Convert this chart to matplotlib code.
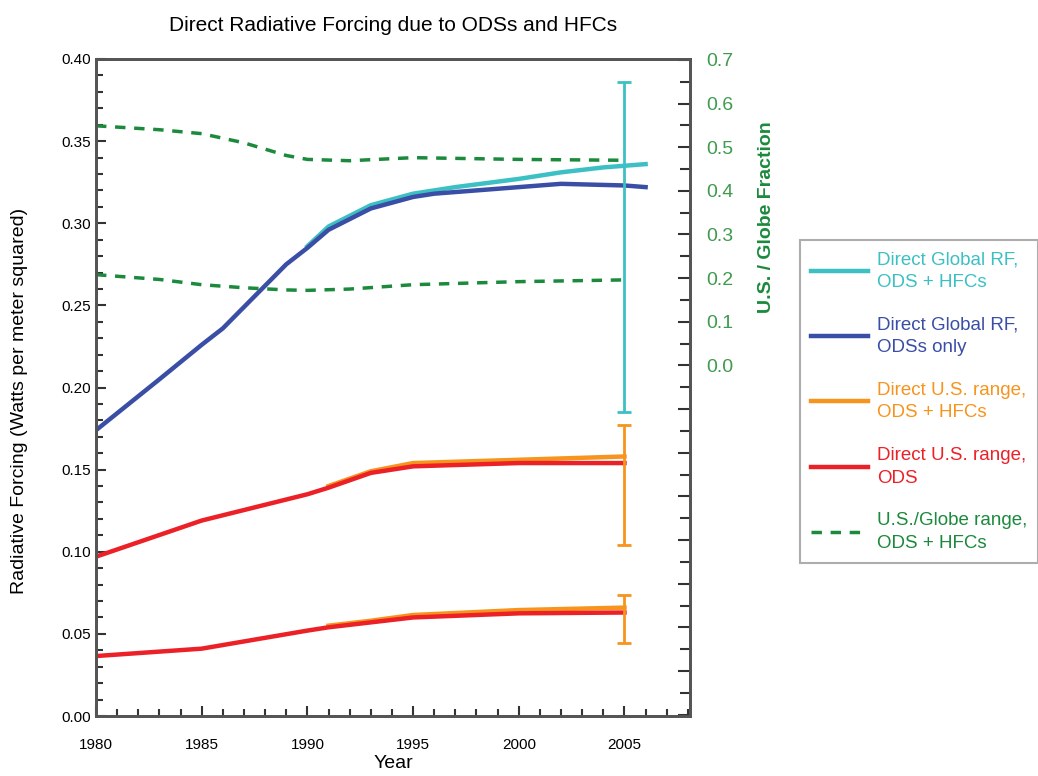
import numpy as np
import matplotlib.pyplot as plt
from matplotlib.ticker import MultipleLocator, FixedLocator, FuncFormatter

# Global direct RF (W/m2)
yr_ods = [1980, 1983, 1985, 1986, 1989, 1990, 1991, 1993, 1995, 1996, 1998, 2000, 2002, 2005, 2006]
glob_ods = [0.174, 0.205, 0.226, 0.236, 0.275, 0.285, 0.296, 0.309, 0.316, 0.318, 0.320, 0.322, 0.324, 0.323, 0.322]
yr_hfc = [1990, 1991, 1993, 1995, 1997, 2000, 2002, 2004, 2006]
glob_hfc = [0.286, 0.298, 0.311, 0.318, 0.322, 0.327, 0.331, 0.334, 0.336]

# U.S. range (upper and lower), ODS only
yr_us = [1980, 1985, 1990, 1991, 1993, 1995, 2000, 2005]
us_ods_hi = [0.097, 0.119, 0.135, 0.139, 0.148, 0.152, 0.154, 0.154]
us_ods_lo = [0.0365, 0.041, 0.052, 0.054, 0.057, 0.060, 0.0625, 0.063]
# U.S. range, ODS + HFCs
yr_us_hfc = [1991, 1993, 1995, 2000, 2005]
us_hfc_hi = [0.140, 0.149, 0.154, 0.156, 0.158]
us_hfc_lo = [0.055, 0.058, 0.0615, 0.0645, 0.066]

# US / globe fraction range (right axis)
yr_frac = [1980, 1983, 1985, 1987, 1989, 1990, 1992, 1995, 2000, 2005]
frac_hi = [0.549, 0.540, 0.531, 0.510, 0.481, 0.472, 0.469, 0.476, 0.472, 0.470]
frac_lo = [0.208, 0.197, 0.185, 0.178, 0.173, 0.172, 0.175, 0.185, 0.192, 0.196]

# 2005 uncertainty bars: (center, low, high)
err_glob = (0.335, 0.185, 0.386)
err_hi = (0.158, 0.104, 0.177)
err_lo = (0.066, 0.0445, 0.0737)

cyan = '#3cc0c4'
blue = '#3a4ea6'
orange = '#f7941d'
red = '#ec2127'
green = '#1b8a3c'
lgreen = '#3f9b4e'

plt.rcParams['font.family'] = ['Liberation Sans Narrow', 'Liberation Sans', 'DejaVu Sans']

fig = plt.figure(figsize=(10.38, 7.76), dpi=100)
ax = fig.add_axes([96 / 1038, 60 / 776, 594 / 1038, 657 / 776])
ax2 = ax.twinx()

lw = 3.2
ax2.plot(yr_frac, frac_hi, color=green, lw=2.5, ls=(0, (3, 2.5)), label='U.S./Globe range,\nODS + HFCs')
ax2.plot(yr_frac, frac_lo, color=green, lw=2.5, ls=(0, (3, 2.5)))

ax.plot(yr_hfc, glob_hfc, color=cyan, lw=lw, label='Direct Global RF,\nODS + HFCs', zorder=3)
ax.plot(yr_ods, glob_ods, color=blue, lw=lw, label='Direct Global RF,\nODSs only', zorder=4)
ax.plot(yr_us_hfc, us_hfc_hi, color=orange, lw=lw, label='Direct U.S. range,\nODS + HFCs', zorder=3)
ax.plot(yr_us_hfc, us_hfc_lo, color=orange, lw=lw, zorder=3)
ax.plot(yr_us, us_ods_hi, color=red, lw=lw, label='Direct U.S. range,\nODS', zorder=4)
ax.plot(yr_us, us_ods_lo, color=red, lw=lw, zorder=4)

for (c, lo, hi), col in [(err_glob, cyan), (err_hi, orange), (err_lo, orange)]:
    ax.errorbar([2005], [c], yerr=[[c - lo], [hi - c]], fmt='none', ecolor=col,
                elinewidth=2, capsize=5, capthick=2, zorder=5)

ax.set_xlim(1980, 2008.1)
ax.set_ylim(0, 0.40)
ax2.set_ylim(-0.803, 0.702)

ax.xaxis.set_major_locator(MultipleLocator(5))
ax.xaxis.set_minor_locator(MultipleLocator(1))
ax.yaxis.set_major_locator(MultipleLocator(0.05))
ax.yaxis.set_minor_locator(MultipleLocator(0.01))
ax.yaxis.set_major_formatter(FuncFormatter(lambda v, p: f'{v:.2f}'))
ax.set_xticks([1980, 1985, 1990, 1995, 2000, 2005])
ax.set_xticklabels(['1980', '1985', '1990', '1995', '2000', '2005'])

ax.tick_params(axis='both', which='both', direction='in', top=False, right=False,
               labelsize=11, color='#333333')
ax.tick_params(which='major', length=7, width=1.5)
ax.tick_params(which='minor', length=5, width=1.5)
ax.tick_params(axis='x', pad=16)

ax2.yaxis.set_major_locator(FixedLocator(np.round(np.arange(-0.8, 0.71, 0.1), 2)))
ax2.yaxis.set_minor_locator(FixedLocator(np.round(np.arange(-0.75, 0.7, 0.1), 2)))
ax2.yaxis.set_major_formatter(FuncFormatter(lambda v, p: f'{abs(v):.1f}' if v > -0.05 else ''))
ax2.tick_params(axis='y', which='both', direction='in', labelcolor=lgreen, labelsize=14,
                color='#333333', pad=12)
ax2.tick_params(which='major', length=9, width=1.5)
ax2.tick_params(which='minor', length=7, width=1.5)

for a in (ax, ax2):
    for s in a.spines.values():
        s.set_color('#555555')
        s.set_linewidth(2)

ax.set_xlabel('Year', fontsize=14, labelpad=2)
ax.set_ylabel('Radiative Forcing (Watts per meter squared)', fontsize=14,
              family=['Liberation Sans', 'DejaVu Sans'])
ax.yaxis.set_label_coords(-0.115, 0.48)
ax2.set_ylabel('U.S. / Globe Fraction', fontsize=14, color=green, fontweight='bold',
               family=['Liberation Sans', 'DejaVu Sans'])
ax2.yaxis.set_label_coords(1.115, 0.76)
ax.set_title('Direct Radiative Forcing due to ODSs and HFCs', fontsize=15, pad=20,
             family=['Liberation Sans', 'DejaVu Sans'])

h1, l1 = ax.get_legend_handles_labels()
h2, l2 = ax2.get_legend_handles_labels()
leg = fig.legend(h1 + h2, l1 + l2, loc='upper left', bbox_to_anchor=(800 / 1038, 1 - 240 / 776),
                 frameon=True, fancybox=False, edgecolor='#999999', labelcolor='linecolor',
                 handlelength=3.0, handletextpad=0.5, labelspacing=1.35, borderpad=0.6,
                 borderaxespad=0,
                 prop={'family': ['Liberation Sans', 'DejaVu Sans'], 'size': 13.5})
for t in leg.get_texts():
    t.set_linespacing(1.45)
leg.get_frame().set_linewidth(1.5)

fig.savefig('out.png', dpi=100)
